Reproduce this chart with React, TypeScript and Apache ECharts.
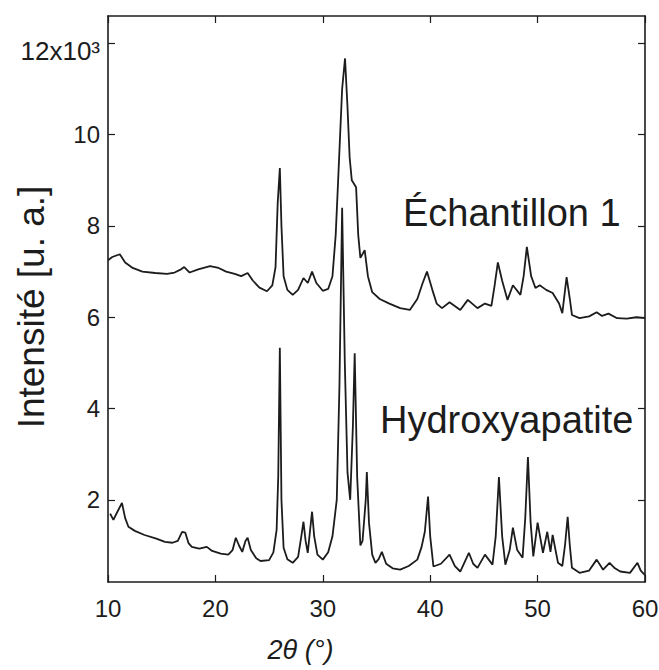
import React, { useEffect, useRef } from "react";
import * as echarts from "echarts";

// 2θ (degrees) and intensity (x10^3)
const sampleX = [10.0, 10.4, 11.1, 11.6, 12.3, 13.2, 14.4, 15.5, 16.2, 16.8, 17.1, 17.6, 18.4, 19.5, 20.3, 21.0, 21.8, 22.4, 23.0, 23.5, 24.1, 24.8, 25.3, 25.6, 25.8, 26.0, 26.15, 26.35, 26.7, 27.2, 27.7, 28.2, 28.6, 29.0, 29.4, 30.0, 30.5, 30.9, 31.2, 31.4, 31.8, 32.07, 32.3, 32.5, 32.7, 33.1, 33.3, 33.5, 33.9, 34.2, 34.6, 35.3, 36.2, 37.2, 38.1, 38.8, 39.3, 39.7, 40.2, 40.6, 41.1, 41.8, 42.8, 43.5, 44.4, 45.1, 45.7, 46.0, 46.3, 46.7, 47.2, 47.7, 48.4, 48.7, 49.0, 49.4, 49.8, 50.2, 50.8, 51.4, 52.0, 52.3, 52.7, 53.0, 53.2, 53.9, 54.8, 55.5, 56.0, 56.6, 57.4, 58.3, 59.2, 60.0];
const sampleY = [7.25, 7.32, 7.38, 7.2, 7.08, 7.0, 6.97, 6.95, 6.98, 7.05, 7.1, 6.98, 7.05, 7.12, 7.08, 7.0, 6.95, 6.9, 6.97, 6.8, 6.65, 6.57, 6.7, 7.1, 8.5, 9.27, 8.0, 6.9, 6.6, 6.49, 6.6, 6.86, 6.75, 7.0, 6.75, 6.58, 6.62, 6.9, 7.8, 8.85, 11.0, 11.67, 10.6, 9.5, 9.0, 8.85, 7.8, 7.3, 7.47, 6.9, 6.55, 6.4, 6.3, 6.2, 6.16, 6.4, 6.75, 7.0, 6.6, 6.3, 6.2, 6.33, 6.16, 6.38, 6.2, 6.3, 6.25, 6.7, 7.2, 6.8, 6.38, 6.7, 6.49, 6.9, 7.54, 6.9, 6.64, 6.7, 6.6, 6.53, 6.3, 6.09, 6.88, 6.4, 6.05, 5.98, 6.02, 6.11, 6.03, 6.08, 5.98, 5.97, 6.0, 5.98];

const haX = [10.2, 10.5, 10.9, 11.3, 11.6, 11.9, 12.5, 13.4, 14.5, 15.3, 16.0, 16.5, 16.9, 17.2, 17.5, 17.8, 18.5, 19.2, 19.7, 20.5, 21.2, 21.6, 21.9, 22.2, 22.5, 22.8, 23.0, 23.3, 23.8, 24.2, 25.0, 25.4, 25.7, 25.85, 26.0, 26.15, 26.35, 26.7, 27.2, 27.7, 28.0, 28.2, 28.4, 28.6, 28.8, 29.0, 29.2, 29.5, 30.0, 30.5, 30.9, 31.3, 31.55, 31.8, 32.05, 32.3, 32.55, 32.8, 32.97, 33.2, 33.5, 33.7, 34.0, 34.1, 34.3, 34.6, 34.9, 35.2, 35.5, 35.9, 36.5, 37.2, 38.0, 38.8, 39.2, 39.5, 39.8, 40.0, 40.3, 41.0, 41.8, 42.3, 42.8, 43.6, 44.0, 44.4, 45.1, 45.8, 46.1, 46.4, 46.7, 47.0, 47.4, 47.7, 48.1, 48.6, 48.85, 49.1, 49.35, 49.6, 50.0, 50.5, 50.9, 51.2, 51.4, 51.9, 52.3, 52.55, 52.8, 53.0, 53.2, 53.9, 54.8, 55.5, 56.1, 56.7, 57.2, 57.7, 58.6, 59.3, 59.6, 60.0];
const haY = [1.7, 1.56, 1.75, 1.93, 1.6, 1.41, 1.32, 1.23, 1.15, 1.08, 1.06, 1.1, 1.3, 1.28, 1.05, 0.97, 0.93, 0.97, 0.88, 0.82, 0.8, 0.9, 1.17, 1.0, 0.86, 1.1, 1.17, 0.9, 0.72, 0.66, 0.68, 0.85, 1.34, 2.5, 5.33, 2.0, 0.95, 0.7, 0.62, 0.75, 1.2, 1.52, 1.1, 0.84, 1.3, 1.74, 1.2, 0.8, 0.69, 0.85, 1.2, 2.0, 4.5, 8.4, 5.0, 2.6, 2.0, 3.6, 5.21, 2.5, 1.0, 1.1, 2.0, 2.61, 1.5, 0.8, 0.62, 0.7, 0.86, 0.6, 0.5, 0.47, 0.55, 0.69, 0.97, 1.3, 2.07, 1.2, 0.54, 0.6, 0.8, 0.55, 0.43, 0.84, 0.6, 0.51, 0.8, 0.58, 1.2, 2.5, 1.2, 0.58, 0.9, 1.39, 0.9, 0.73, 1.6, 2.94, 1.5, 0.76, 1.5, 0.84, 1.3, 0.86, 1.23, 0.62, 0.55, 1.0, 1.63, 1.0, 0.51, 0.4, 0.45, 0.69, 0.47, 0.62, 0.5, 0.43, 0.4, 0.62, 0.45, 0.35];

const yTicks = [2, 4, 6, 8, 10, 12];
const seriesNames = ["Échantillon 1", "Hydroxyapatite"];
const yTitle = "Intensité [u. a.]";
const xTitle = "2θ (°)";

const FONT = "'Liberation Sans', Arial, sans-serif";
const INK = "#1c1c1c";

export default function App() {
  const ref = useRef<HTMLDivElement>(null);
  useEffect(() => {
    document.body.style.margin = "0";
    const chart = echarts.init(ref.current!, null, { renderer: "svg" });
    const zip = (xs: number[], ys: number[]) => xs.map((x, i) => [x, ys[i]]);
    const axisLine = { show: true, lineStyle: { color: INK, width: 1.6 } };
    const tick = { show: true, inside: true, length: 7, lineStyle: { color: INK, width: 1.2 } };
    chart.setOption({
      animation: false,
      backgroundColor: "#ffffff",
      grid: { left: 108, right: 14, top: 16, bottom: 88, containLabel: false, outerBoundsMode: "none" },
      xAxis: [
        {
          type: "value", min: 10, max: 60, interval: 10, position: "bottom",
          axisLine, axisTick: tick, splitLine: { show: false },
          axisLabel: { fontFamily: FONT, fontSize: 24, color: INK, margin: 14 },
          name: xTitle, nameLocation: "middle", nameGap: 54,
          nameTextStyle: { fontFamily: FONT, fontSize: 27, fontStyle: "italic", color: INK, padding: [0, 152, 0, 0] },
        },
        {
          type: "value", min: 10, max: 60, interval: 10, position: "top",
          axisLine, axisTick: tick, splitLine: { show: false }, axisLabel: { show: false },
        },
      ],
      yAxis: [
        {
          type: "value", min: 0.2, max: 12.6, position: "left",
          axisLine, axisTick: { ...tick, customValues: yTicks }, splitLine: { show: false },
          axisLabel: {
            customValues: yTicks, fontFamily: FONT, fontSize: 24, color: INK, margin: 8,
            formatter: (v: number) => (v === 12 ? "{a|12x10³}" : String(v)),
            rich: {
              a: { fontFamily: FONT, fontSize: 26, color: INK, padding: [16, 0, 0, 0] },
            },
          },
        },
        {
          type: "value", min: 0.2, max: 12.6, position: "right",
          axisLine, axisTick: { ...tick, customValues: yTicks }, splitLine: { show: false },
          axisLabel: { show: false },
        },
      ],
      series: [
        {
          name: seriesNames[0], type: "line", data: zip(sampleX, sampleY), showSymbol: false,
          lineStyle: { color: INK, width: 1.8 }, z: 3,
        },
        {
          name: seriesNames[1], type: "line", data: zip(haX, haY), showSymbol: false,
          lineStyle: { color: INK, width: 1.8 }, z: 3,
        },
      ],
      graphic: [
        {
          type: "text", x: 31, y: 307, rotation: Math.PI / 2,
          style: { text: yTitle, fontFamily: FONT, fontSize: 37, fill: INK, align: "center", verticalAlign: "middle" },
        },
        {
          type: "text", left: 403, top: 194,
          style: { text: seriesNames[0], fontFamily: FONT, fontSize: 38, fill: INK },
        },
        {
          type: "text", left: 380, top: 401,
          style: { text: seriesNames[1], fontFamily: FONT, fontSize: 38, fill: INK },
        },
      ],
    });
    return () => chart.dispose();
  }, []);
  return <div ref={ref} style={{ width: 659, height: 670 }} />;
}
